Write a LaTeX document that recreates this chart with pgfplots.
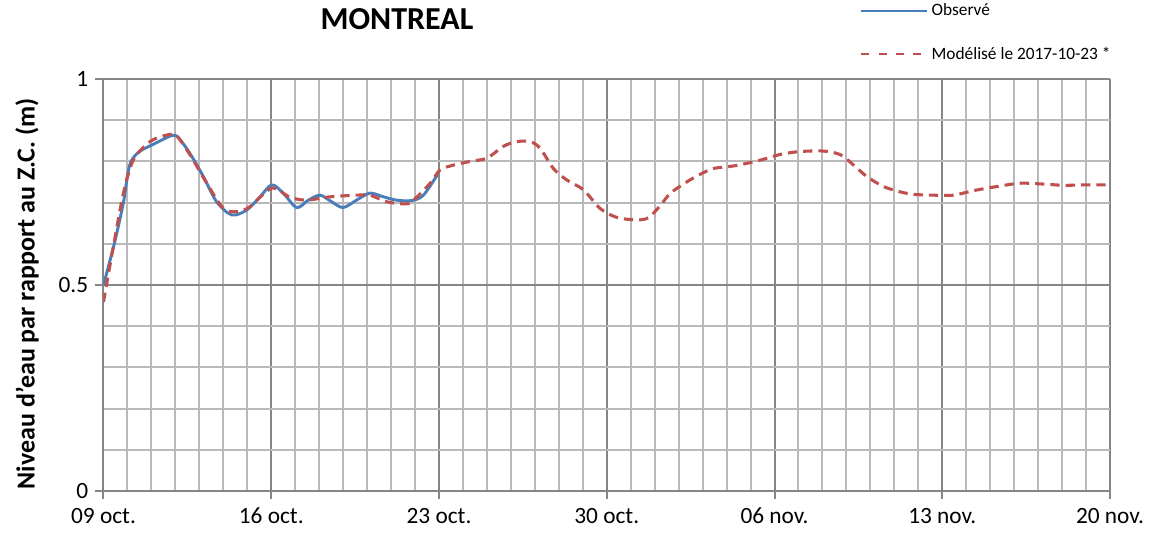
\documentclass[border=0pt]{standalone}
\usepackage{fontspec}
\setmainfont{Carlito}
\usepackage{pgfplots}
\pgfplotsset{compat=1.18}
\definecolor{obsblue}{RGB}{74,126,187}
\definecolor{modred}{RGB}{192,80,77}
\definecolor{gridminor}{RGB}{185,185,185}
\definecolor{gridmajor}{RGB}{134,134,134}
\begin{document}
\begin{tikzpicture}
\useasboundingbox (0,0) rectangle (864.75pt,408pt);
\begin{axis}[
  scale only axis,
  width=754.875pt, height=309pt,
  at={(77.625pt,39.75pt)}, anchor=south west,
  xmin=0, xmax=42, ymin=0, ymax=1,
  xtick={0,7,14,21,28,35,42},
  xticklabels={09 oct.,16 oct.,23 oct.,30 oct.,06 nov.,13 nov.,20 nov.},
  minor xtick={0,1,...,42},
  ytick={0,0.5,1},
  yticklabels={0,0.5,1},
  minor ytick={0,0.1,...,1},
  grid=both,
  minor grid style={gridminor, line width=1.5pt},
  major grid style={gridmajor, line width=1.5pt},
  axis line style={gridmajor, line width=1.5pt},
  axis x line*=bottom, axis y line*=left,
  tick align=outside,
  major tick length=6pt, minor tick length=0pt,
  tick style={gridmajor, line width=1.5pt},
  /pgf/number format/assume math mode=true,
  tick label style={font=\fontsize{17.5}{21}\selectfont, black},
  xticklabel style={anchor=north, text height=12pt, text depth=3pt, yshift=-3pt},
  yticklabel style={xshift=-2pt},
  ylabel={\textbf{Niveau d'eau par rapport au Z.C. (m)}},
  ylabel style={font=\fontsize{19.5}{23}\selectfont, at={(axis description cs:-0.076,0.479)}, anchor=center, rotate=0},
  title={\textbf{MONTREAL}},
  title style={font=\fontsize{24}{28}\selectfont, at={(axis description cs:0.2916,1.126)}, anchor=center},
  legend style={draw=none, fill=none, at={(axis description cs:0.7516,1.1917)}, anchor=north west,
    inner sep=0pt, row sep=17pt, font=\fontsize{13}{15}\selectfont, nodes={inner sep=2.5pt}},
  legend cell align=left,
  legend image code/.code={\draw[#1, line width=1.5pt] (0pt,0pt) -- (49.5pt,0pt);},
]
\addplot[obsblue, line width=2.2pt, smooth, tension=0.5] coordinates {
(0,0.50) (0.45,0.60) (0.83,0.70) (1.0,0.765) (1.15,0.80) (1.5,0.824) (2.2,0.845) (2.85,0.863) (3.12,0.858)
(3.6,0.820) (4.17,0.763) (4.72,0.702) (5.35,0.670) (5.98,0.682) (6.53,0.714) (7.02,0.743)
(7.5,0.723) (8.06,0.688) (8.55,0.706) (9.04,0.718) (9.52,0.702) (10.0,0.688) (10.56,0.706)
(11.12,0.723) (11.68,0.714) (12.23,0.706) (12.86,0.705) (13.35,0.718) (13.97,0.771)
};
\addlegendentry{Observé}
\addplot[modred, line width=2.3pt, dash pattern=on 7pt off 4.5pt, smooth, tension=0.5,
  forget plot] coordinates {
(0,0.459) (0.41,0.593) (0.83,0.722) (1.24,0.803) (1.94,0.848) (2.64,0.864) (3.05,0.862)
(3.61,0.816) (4.31,0.747) (5.0,0.686) (5.56,0.678) (6.11,0.690) (7.02,0.735) (7.78,0.713)
(8.48,0.706) (9.45,0.714) (10.56,0.718) (11.12,0.718) (11.82,0.702) (12.51,0.697) (12.86,0.702)
(13.63,0.747) (14.04,0.779) (14.6,0.791) (15.3,0.800) (16.0,0.808) (16.7,0.837) (17.25,0.848)
(17.8,0.848) (18.22,0.832) (18.77,0.783) (19.33,0.755) (20.03,0.731) (20.72,0.686) (21.42,0.664)
(22.27,0.658) (22.76,0.664) (23.25,0.694) (23.66,0.723) (24.36,0.751) (24.91,0.769) (25.47,0.783)
(26.3,0.789) (27.28,0.801) (28.25,0.817) (29.09,0.824) (30.06,0.825) (30.76,0.816) (31.3,0.791)
(31.86,0.763) (32.55,0.739) (33.25,0.726) (33.8,0.720) (34.64,0.718) (35.47,0.718) (36.3,0.729)
(37.28,0.739) (38.25,0.747) (39.22,0.745) (40.06,0.742) (41.0,0.743) (42.0,0.743)
};
\addlegendimage{modred, dash pattern=on 6pt off 7pt}
\addlegendentry{Modélisé le 2017-10-23 *}
\end{axis}
\end{tikzpicture}
\end{document}
